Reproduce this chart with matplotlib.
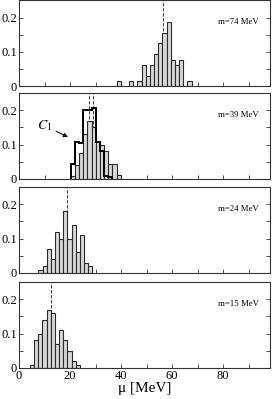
import numpy as np
import matplotlib
matplotlib.use("Agg")
import matplotlib.pyplot as plt

plt.rcParams['font.family'] = ['Liberation Serif', 'DejaVu Serif']
plt.rcParams['mathtext.fontset'] = 'stix'

# bin width and per-panel first bin edge (MeV)
bin_w = 1.63

# m=74 MeV
start_74 = 38.3
h_74 = [1, 0, 0, 1, 0, 1, 4, 2, 4, 6, 8, 10, 12, 5, 4, 5, 0, 1]
h_74 = [v / 64 for v in h_74]
mean_74 = 56.6

# m=39 MeV
start_39 = 20.3
h_39 = [0.01, 0.04, 0.075, 0.13, 0.17, 0.15, 0.11, 0.10, 0.08, 0.045, 0.045, 0.012]
c1_39 = [0.044, 0.108, 0.104, 0.20, 0.20, 0.205, 0.107, 0.08, 0.01, 0.005]
means_39 = [27.5, 29.0]

# m=24 MeV
start_24 = 7.6
h_24 = [0.01, 0.02, 0.07, 0.04, 0.12, 0.10, 0.18, 0.10, 0.14, 0.06, 0.11, 0.03, 0.02]
mean_24 = 18.7

# m=15 MeV
start_15 = 4.3
h_15 = [0.01, 0.08, 0.10, 0.14, 0.17, 0.16, 0.07, 0.11, 0.08, 0.05, 0.02, 0.01]
mean_15 = 12.4

panels = [
    ("m=74 MeV", start_74, h_74, [mean_74]),
    ("m=39 MeV", start_39, h_39, means_39),
    ("m=24 MeV", start_24, h_24, [mean_24]),
    ("m=15 MeV", start_15, h_15, [mean_15]),
]

fig = plt.figure(figsize=(2.73, 3.99), dpi=100)
bottoms = [0.7835, 0.5514, 0.3158, 0.0777]
left, width, height = 0.0696, 0.9194, 0.2155

axes = []
for (label, start, heights, means), b in zip(panels, bottoms):
    ax = fig.add_axes([left, b, width, height])
    edges = start + bin_w * np.arange(len(heights))
    for m in means:
        ax.axvline(m, color='#444444', lw=0.8, ls=(0, (3, 1.5)), zorder=1)
    ax.bar(edges, heights, width=bin_w, align='edge', color='#d8d8d8',
           edgecolor='#2a2a2a', linewidth=0.8, zorder=2)
    ax.set_xlim(0, 98.4)
    ax.set_ylim(0, 0.25)
    ax.set_xticks([0, 20, 40, 60, 80])
    ax.set_xticks(np.arange(10, 100, 20), minor=True)
    ax.set_yticks([0, 0.1, 0.2])
    ax.set_yticklabels(["0", "0.1", "0.2"])
    ax.set_yticks([0.05, 0.15], minor=True)
    ax.tick_params(which='both', direction='in', length=3, width=0.6,
                   right=True, top=False, labelsize=9, pad=1.5, colors='#333333',
                   labelcolor='black')
    ax.text(0.955, 0.75, label, transform=ax.transAxes, ha='right',
            va='center', fontsize=6.3)
    for s in ax.spines.values():
        s.set_linewidth(0.8)
        s.set_color('#333333')
    axes.append(ax)

# C1 outline in the m=39 panel
ax2 = axes[1]
c1_edges = start_39 + bin_w * np.arange(len(c1_39) + 1)
ax2.stairs(c1_39, c1_edges, baseline=0, color='black', lw=1.4, zorder=3)
ax2.annotate("$C_1$", xy=(19.2, 0.122), xytext=(10.0, 0.155),
             fontsize=10, ha='center', va='center',
             arrowprops=dict(arrowstyle='-|>', color='black', lw=0.8,
                             mutation_scale=6, shrinkA=1, shrinkB=0))

for ax in axes[:-1]:
    ax.tick_params(labelbottom=False)

axes[-1].set_xlabel("μ [MeV]", fontsize=11, labelpad=0)

fig.savefig("out.png", dpi=100)
